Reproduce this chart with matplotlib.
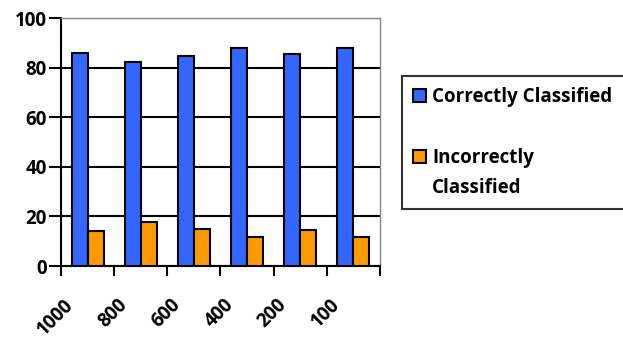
import numpy as np
import matplotlib.pyplot as plt
from matplotlib.ticker import FixedLocator
from matplotlib.patches import Patch

categories = ['1000', '800', '600', '400', '200', '100']
correct = [85.8, 82.2, 84.8, 88.1, 85.3, 88.1]
incorrect = [14.1, 17.6, 15.1, 11.6, 14.6, 11.6]

plt.rcParams['font.family'] = ['Open Sans', 'DejaVu Sans']
plt.rcParams['font.weight'] = 'bold'

fig = plt.figure(figsize=(6.23, 3.38), dpi=100)
ax = fig.add_axes([61/623, 1-266/338, 319/623, 248/338])

x = np.arange(len(categories))
w = 0.3
b1 = ax.bar(x - w/2, correct, w, color='#3366ff', edgecolor='black',
            linewidth=1.5, zorder=3)
b2 = ax.bar(x + w/2, incorrect, w, color='#ff9900', edgecolor='black',
            linewidth=1.5, zorder=3)

ax.set_xlim(-0.5, len(categories) - 0.5)
ax.set_ylim(0, 100)
ax.set_yticks(range(0, 101, 20))
ax.yaxis.grid(True, color='black', linewidth=1.5, zorder=0)

# labels sit a bit left of the group centre, like the original
ax.set_xticks(x - 0.45)
ax.set_xticklabels(categories, rotation=45, ha='right', va='top',
                   rotation_mode='anchor')
ax.xaxis.set_minor_locator(FixedLocator(np.arange(-0.5, len(categories), 1)))
ax.tick_params(axis='x', which='major', length=0, pad=21, labelsize=13.5)
ax.tick_params(axis='x', which='minor', length=7, width=1.5, direction='out')
ax.tick_params(axis='y', length=9, width=1.5, direction='out', labelsize=13.5,
               pad=1)
for lab in ax.get_xticklabels() + ax.get_yticklabels():
    lab.set_fontweight('bold')

ax.spines['left'].set_linewidth(1.5)
ax.spines['bottom'].set_linewidth(1.5)
for s in ('top', 'right'):
    ax.spines[s].set_color('#888888')
    ax.spines[s].set_linewidth(1)

blank = Patch(facecolor='none', edgecolor='none')
leg = fig.legend([b1, blank, b2, blank],
                 ['Correctly Classified', ' ', 'Incorrectly', 'Classified'],
                 loc='upper left', mode='expand',
                 bbox_to_anchor=(402/623, 1-76/338, 240/623, 0),
                 frameon=True, fancybox=False, edgecolor='black',
                 prop={'weight': 'bold', 'size': 13.5}, handlelength=0.7,
                 handleheight=0.7, handletextpad=0.3, labelspacing=0.55,
                 borderpad=0.6, borderaxespad=0)
leg.get_frame().set_linewidth(1.5)

fig.savefig('out.png', dpi=100)
